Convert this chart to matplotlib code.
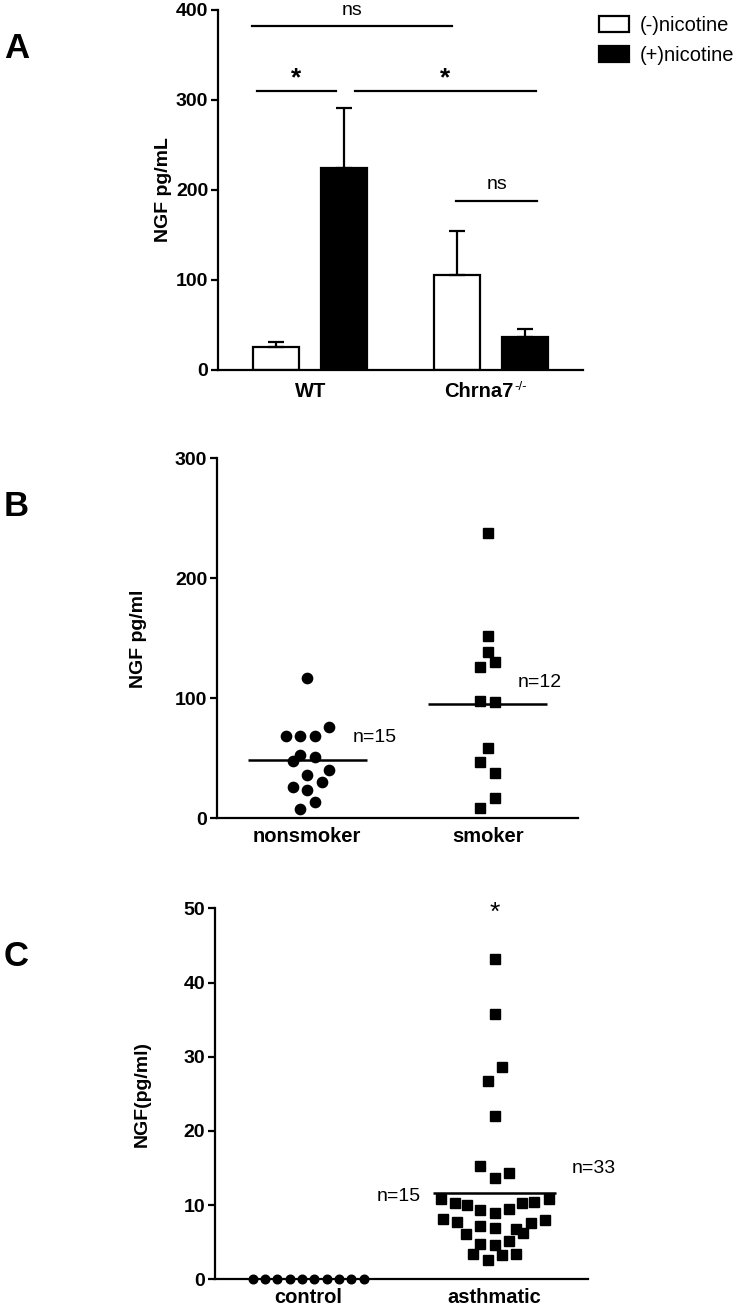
import matplotlib
matplotlib.use('Agg')
import matplotlib.pyplot as plt
from matplotlib.patches import Patch
import numpy as np

plt.rcParams['font.family'] = ['Liberation Sans', 'DejaVu Sans']

# ---- panel A data ----
groups_a = ['WT', 'Chrna7']
minus_nic = [25, 106]
minus_err = [6, 48]
plus_nic = [224, 37]
plus_err = [67, 8]

# ---- panel B data ----
nonsmoker = [117, 69, 69, 69, 76, 53, 51, 48, 36, 40, 26, 24, 30, 14, 8]
nonsmoker_slot = [0, -3, -1, 1, 3, -1, 1, -2, 0, 3, -2, 0, 2, 1, -1]
smoker = [238, 152, 139, 130, 126, 97.5, 97, 59, 47, 37.5, 17, 8.5]
smoker_slot = [0, 0, 0, 1, -1, -1, 1, 0, -1, 1, 1, -1]

# ---- panel C data ----
control = [0, 0, 0, 0, 0, 0, 0, 0, 0, 0]
control_slot = [-4.5, -3.5, -2.5, -1.5, -0.5, 0.5, 1.5, 2.5, 3.5, 4.5]
asthmatic = [43.2, 35.8, 28.6, 26.7, 22.0, 15.3, 14.4, 13.6,
             10.8, 10.3, 10.0, 9.4, 8.9, 9.5, 10.3, 10.4, 10.8,
             8.2, 7.7, 7.2, 6.9, 6.8, 6.3, 7.6, 8.0, 6.1,
             4.8, 4.6, 5.2, 3.4, 3.3, 3.4, 2.6]
asthmatic_slot = [0, 0, 1, -1, 0, -2, 2, 0,
                  -7.5, -5.5, -3.8, -2, 0, 2, 3.8, 5.5, 7.5,
                  -7.2, -5.2, -2, 0, 3, 4, 5, 7, -4,
                  -2, 0, 2, -3, 1, 3, -1]

fig = plt.figure(figsize=(7.44, 13.10), dpi=100)


def style_axes(ax):
    for s in ['top', 'right']:
        ax.spines[s].set_visible(False)
    for s in ['left', 'bottom']:
        ax.spines[s].set_linewidth(1.6)
    ax.tick_params(axis='both', direction='out', length=5, width=1.6,
                   labelsize=14, pad=2)
    ax.tick_params(axis='x', length=0, pad=6, labelsize=14.5)
    for lab in ax.get_xticklabels() + ax.get_yticklabels():
        lab.set_fontweight('bold')


# ================= Panel A =================
axA = fig.add_axes([0.293, 0.7176, 0.491, 0.2748])
x = np.arange(len(groups_a))
off, w = 0.188, 0.255
ekw = dict(ecolor='black', elinewidth=1.6, capsize=6, capthick=1.6)
axA.bar(x - off, minus_nic, w, color='white', edgecolor='black', linewidth=1.6,
        yerr=[np.zeros(2), minus_err], error_kw=ekw, zorder=2)
axA.bar(x + off, plus_nic, w, color='black', edgecolor='black', linewidth=1.6,
        yerr=[np.zeros(2), plus_err], error_kw=ekw, zorder=2)
axA.set_xlim(-0.51, 1.51)
axA.set_ylim(0, 400)
axA.set_yticks([0, 100, 200, 300, 400])
axA.set_xticks(x)
axA.set_xticklabels(['', ''])
axA.set_ylabel('NGF pg/mL', fontsize=14, fontweight='bold', labelpad=3)
style_axes(axA)
xt = axA.get_xaxis_transform()
axA.text(x[0], -0.06, groups_a[0], transform=xt, ha='center', va='center',
         fontsize=14.5, fontweight='bold')
t_ch = axA.text(x[1] - 0.07, -0.06, groups_a[1], transform=xt, ha='center',
                va='center', fontsize=14.5, fontweight='bold')
axA.annotate('-/-', xy=(1, 1), xycoords=t_ch, xytext=(1, 1), textcoords='offset points',
             ha='left', va='top', fontsize=9.5)

sig_lines = [(-0.324, 0.784, 382, 'ns', 390, 14, 'normal'),
             (-0.296, 0.141, 310, '*', 311, 19, 'bold'),
             (0.247, 1.249, 310, '*', 311, 19, 'bold'),
             (0.806, 1.255, 188, 'ns', 197, 14, 'normal')]
for x0, x1, yv, txt, ty, fs, fw in sig_lines:
    axA.plot([x0, x1], [yv, yv], color='black', lw=1.6, clip_on=False)
    axA.text((x0 + x1) / 2, ty, txt, ha='center', va='bottom',
             fontsize=fs, fontweight=fw)

fig.legend(handles=[Patch(facecolor='white', edgecolor='black', lw=1.6, label='(-)nicotine'),
                    Patch(facecolor='black', edgecolor='black', lw=1.6, label='(+)nicotine')],
           loc='upper right', bbox_to_anchor=(1.003, 0.997), frameon=False,
           prop={'size': 14.5}, handlelength=1.45, handleheight=0.85,
           labelspacing=0.55, handletextpad=0.55, borderaxespad=0.2)

# ================= Panel B =================
axB = fig.add_axes([0.2917, 0.3753, 0.4853, 0.2748])
axB.plot(1 + np.array(nonsmoker_slot) * 0.08, nonsmoker, 'o', color='black', ms=7.4,
         clip_on=False)
axB.plot(3 + np.array(smoker_slot) * 0.083, smoker, 's', color='black', ms=7.0,
         clip_on=False)
axB.hlines(np.mean(nonsmoker), 1 - 0.66, 1 + 0.66, color='black', lw=1.8)
axB.hlines(np.mean(smoker), 3 - 0.66, 3 + 0.66, color='black', lw=1.8)
axB.text(1.5, 67, 'n=15', fontsize=14, va='center')
axB.text(3.33, 113, 'n=12', fontsize=14, va='center')
axB.set_xlim(0, 4)
axB.set_ylim(0, 300)
axB.set_yticks([0, 100, 200, 300])
axB.set_xticks([1, 3])
axB.set_xticklabels(['nonsmoker', 'smoker'])
axB.set_ylabel('NGF pg/ml', fontsize=14, fontweight='bold', labelpad=20)
style_axes(axB)

# ================= Panel C =================
axC = fig.add_axes([0.289, 0.0234, 0.5013, 0.2832])
axC.plot(1 + np.array(control_slot) * 0.132, control, 'o', color='black', ms=6.2,
         clip_on=False, zorder=3)
axC.plot(3 + np.array(asthmatic_slot) * 0.077, asthmatic, 's', color='black', ms=6.8,
         clip_on=False)
axC.hlines(np.mean(asthmatic), 3 - 0.66, 3 + 0.66, color='black', lw=1.8)
axC.text(3, 49.4, '*', fontsize=19, ha='center', va='center')
axC.text(1.73, 11.1, 'n=15', fontsize=14, va='center')
axC.text(3.82, 14.9, 'n=33', fontsize=14, va='center')
axC.set_xlim(0, 4)
axC.set_ylim(0, 50)
axC.set_yticks([0, 10, 20, 30, 40, 50])
axC.set_xticks([1, 3])
axC.set_xticklabels(['control', 'asthmatic'])
axC.set_ylabel('NGF(pg/ml)', fontsize=14, fontweight='bold', labelpad=24)
style_axes(axC)

# panel letters
for lab, ypos in [('A', 1 - 49 / 1310), ('B', 1 - 507 / 1310), ('C', 1 - 957 / 1310)]:
    fig.text(0.022, ypos, lab, fontsize=25, fontweight='bold', ha='center', va='center')

fig.savefig('out.png', dpi=100)
